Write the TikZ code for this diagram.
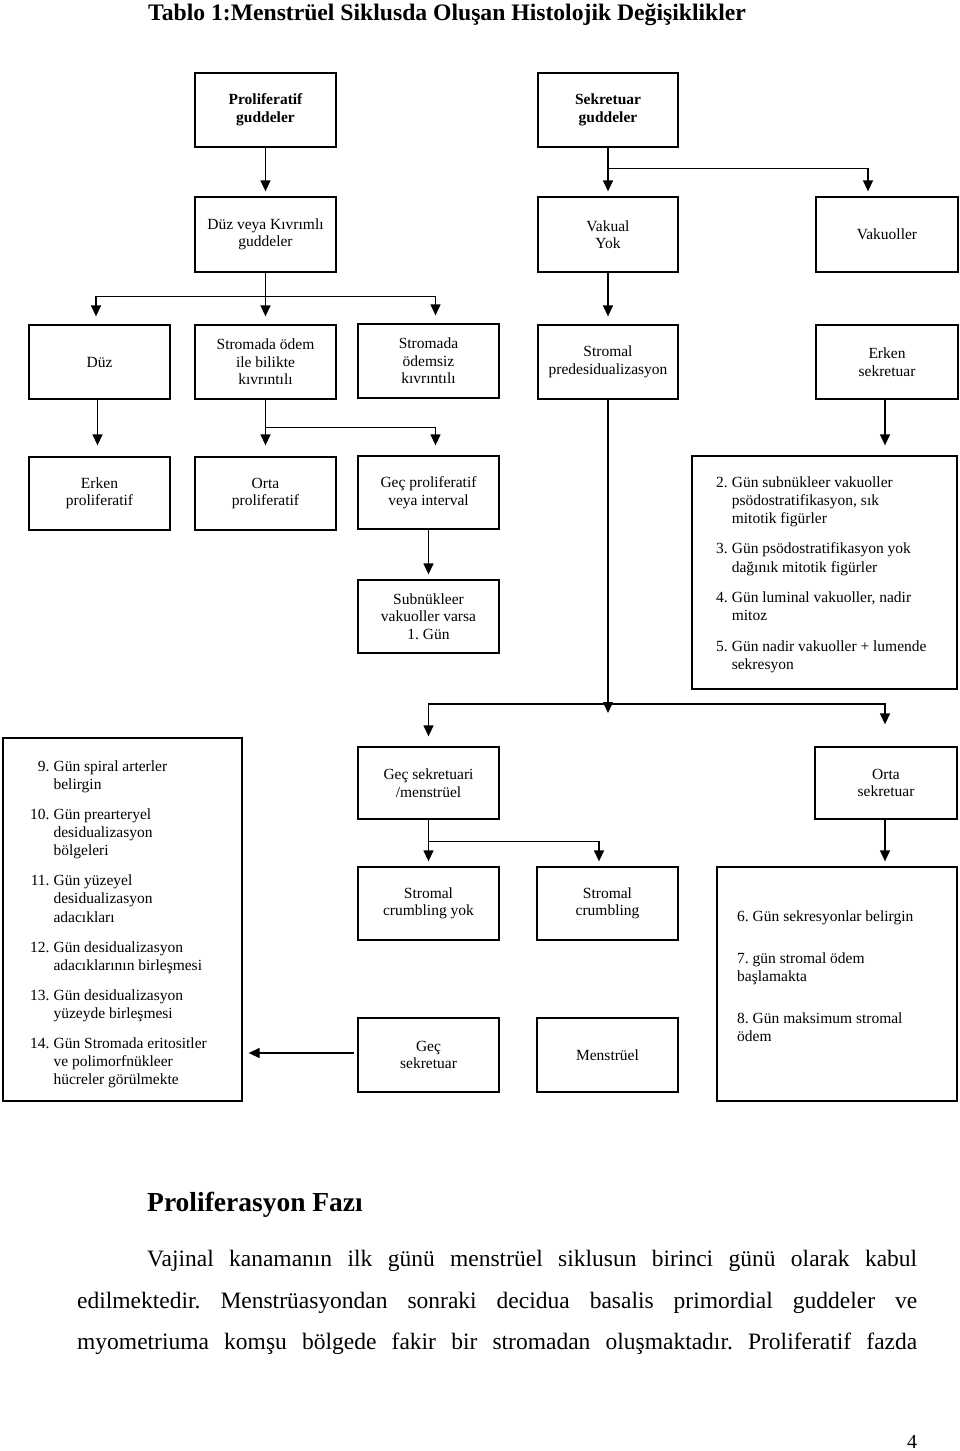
\documentclass[tikz,border=0pt]{standalone}
\usepackage{fontspec}
\setmainfont{Liberation Serif}
\usetikzlibrary{arrows.meta,calc}
\frenchspacing
\newcommand\boxfont{\fontsize{15.5}{17.5}\selectfont}
\newcommand\listfont{\fontsize{15.5}{18.2}\selectfont}
\newcommand\parfont{\fontsize{23.5}{28}\selectfont}
\tikzset{
  box/.style={draw, line width=1.3pt, align=center, inner sep=0pt,
    minimum width=141pt, minimum height=74pt, font=\boxfont},
  boldbox/.style={box, font=\bfseries\boxfont},
  frame/.style={draw, line width=1.3pt, inner sep=0pt},
  line/.style={line width=1.3pt},
  arr/.style={line width=1.3pt, -{Triangle[width=10pt,length=11pt]}},
  txt/.style={anchor=base west, inner sep=0pt},
}
\begin{document}
\frenchspacing
\begin{tikzpicture}[x=1pt,y=-1pt]
\useasboundingbox (0,0) rectangle (960,1451);

% title
\node[txt, font=\bfseries\fontsize{23.65}{28}\selectfont] (title) at (148,20)
  {Tablo 1:Menstrüel Siklusda Oluşan Histolojik Değişiklikler};

% row 1
\node[boldbox] (A) at (265.5,110) {Proliferatif\\guddeler};
\node[boldbox, minimum width=140pt] (C) at (608,110) {Sekretuar\\guddeler};
% row 2
\node[box, minimum height=75pt] (B) at (265.5,234.5) {Düz veya Kıvrımlı\\guddeler};
\node[box, minimum width=140pt, minimum height=75pt] (D) at (608,234.5) {Vakual\\Yok};
\node[box, minimum width=142pt, minimum height=75pt] (E) at (887,234.5) {Vakuoller};
% row 3
\node[box] (Duz) at (99.5,362) {Düz};
\node[box] (SOI) at (265.5,362) {Stromada ödem\\ile bilikte\\kıvrıntılı};
\node[box] (SOS) at (428.5,361) {Stromada\\ödemsiz\\kıvrıntılı};
\node[box, minimum width=140pt] (SPD) at (608,362) {Stromal\\predesidualizasyon};
\node[box, minimum width=142pt] (ES) at (887,362) {Erken\\sekretuar};
% row 4
\node[box, minimum height=73pt] (EP) at (99.5,493.5) {Erken\\proliferatif};
\node[box, minimum height=73pt] (OP) at (265.5,493.5) {Orta\\proliferatif};
\node[box, minimum height=73pt] (GP) at (428.5,492.5) {Geç proliferatif\\veya interval};
\node[box, minimum height=73pt] (SV) at (428.5,616.5) {Subnükleer\\vakuoller varsa\\1. Gün};

% days 2-5
\node[frame, minimum width=265pt, minimum height=233pt] (D25) at (824.5,572.5) {};
\node[txt, font=\listfont] (D25t) at (716,487) {\begin{tabular}[t]{@{}r@{\hspace{4pt}}l@{}}
2. & Gün subnükleer vakuoller\\ & psödostratifikasyon, sık\\ & mitotik figürler\\[12.3pt]
3. & Gün psödostratifikasyon yok\\ & dağınık mitotik figürler\\[12.3pt]
4. & Gün luminal vakuoller, nadir\\ & mitoz\\[12.3pt]
5. & Gün nadir vakuoller + lumende\\ & sekresyon
\end{tabular}};

% bottom section
\node[frame, minimum width=239pt, minimum height=363pt] (L) at (122.5,919.5) {};
\node[txt, font=\listfont] (Lt) at (30,771) {\begin{tabular}[t]{@{}r@{\hspace{4pt}}l@{}}
9. & Gün spiral arterler\\ & belirgin\\[11.8pt]
10. & Gün prearteryel\\ & desidualizasyon\\ & bölgeleri\\[11.8pt]
11. & Gün yüzeyel\\ & desidualizasyon\\ & adacıkları\\[11.8pt]
12. & Gün desidualizasyon\\ & adacıklarının birleşmesi\\[11.8pt]
13. & Gün desidualizasyon\\ & yüzeyde birleşmesi\\[11.8pt]
14. & Gün Stromada eritositler\\ & ve polimorfnükleer\\ & hücreler görülmekte
\end{tabular}};

\node[box, minimum height=72pt] (GSM) at (428.5,783) {Geç sekretuari\\/menstrüel};
\node[box, minimum width=142pt, minimum height=72pt] (OS) at (886,783) {Orta\\sekretuar};
\node[box, minimum height=73pt] (SCY) at (428.5,903.5) {Stromal\\crumbling yok};
\node[box, minimum height=73pt] (SC) at (607.5,903.5) {Stromal\\crumbling};
\node[box] (GS) at (428.5,1055) {Geç\\sekretuar};
\node[box] (MN) at (607.5,1055) {Menstrüel};

\node[frame, minimum width=240pt, minimum height=234pt] (D68) at (837,984) {};
\node[txt, font=\listfont] (D68t) at (737,921) {\begin{tabular}[t]{@{}l@{}}
6. Gün sekresyonlar belirgin\\[24pt]
7. gün stromal ödem\\ başlamakta\\[24pt]
8. Gün maksimum stromal\\ ödem
\end{tabular}};

% connectors
\draw[arr, shorten >=5pt] (A) -- (B);

\coordinate (jC) at ($(C.south)+(0,21)$);
\draw[line] (C.south) -- (jC);
\draw[arr, shorten >=5pt] (jC) -- (D.north);
\draw[arr, shorten >=5pt] (jC) -| ([xshift=-19pt]E.north);

\coordinate (jB) at ($(B.south)+(0,24)$);
\draw[line] (B.south) -- (jB);
\draw[arr, shorten >=8pt] (jB) -| ([xshift=-3.5pt]Duz.north);
\draw[arr, shorten >=8pt] (jB) -- (SOI.north);
\draw[arr, shorten >=8pt] (jB) -| ([xshift=7pt]SOS.north);

\draw[arr, shorten >=8pt] (D) -- (SPD);

\draw[arr, shorten >=11pt] ([xshift=-2pt]Duz.south) -- ([xshift=-2pt]EP.north);

\coordinate (jS) at ($(SOI.south)+(0,28)$);
\draw[line] (SOI.south) -- (jS);
\draw[arr, shorten >=11pt] (jS) -- (OP.north);
\draw[arr, shorten >=10pt] (jS) -| ([xshift=7pt]GP.north);

\draw[arr, shorten >=5pt] (GP) -- (SV);

\draw[arr, shorten >=10pt] ([xshift=-2pt]ES.south) -- ([xshift=-2pt]ES.south |- D25.north);

\coordinate (jH) at (SPD.south |- 0,704);
\draw[arr, shorten >=-9pt] (SPD.south) -- (jH);
\draw[arr, shorten >=10pt] (jH) -| (GSM.north);
\draw[arr, shorten >=22pt] (jH) -| ([xshift=-1pt]OS.north);

\coordinate (jG) at ($(GSM.south)+(0,22)$);
\draw[line] (GSM.south) -- (jG);
\draw[arr, shorten >=5pt] (jG) -- (SCY.north);
\draw[arr, shorten >=5pt] (jG) -| ([xshift=-8.5pt]SC.north);

\draw[arr, shorten >=5pt] ([xshift=-1pt]OS.south) -- ([xshift=-1pt]OS.south |- D68.north);

\draw[arr, shorten >=6pt] ([yshift=2pt,xshift=-3pt]GS.west) -- ([yshift=2pt]GS.west -| L.east);

% text below
\node[txt, font=\bfseries\fontsize{27.5}{33}\selectfont] (head) at (147,1211.5) {Proliferasyon Fazı};
\node[txt, font=\parfont] (p1) at (147,1266)
  {\makebox[770pt][s]{Vajinal kanamanın ilk günü menstrüel siklusun birinci günü olarak kabul}};
\node[txt, font=\parfont] (p2) at (77,1308)
  {\makebox[840pt][s]{edilmektedir. Menstrüasyondan sonraki decidua basalis primordial guddeler ve}};
\node[txt, font=\parfont] (p3) at (77,1349)
  {\makebox[840pt][s]{myometriuma komşu bölgede fakir bir stromadan oluşmaktadır. Proliferatif fazda}};
\node[txt, font=\fontsize{20}{24}\selectfont] (pg) at (907,1448) {4};
\end{tikzpicture}
\end{document}
